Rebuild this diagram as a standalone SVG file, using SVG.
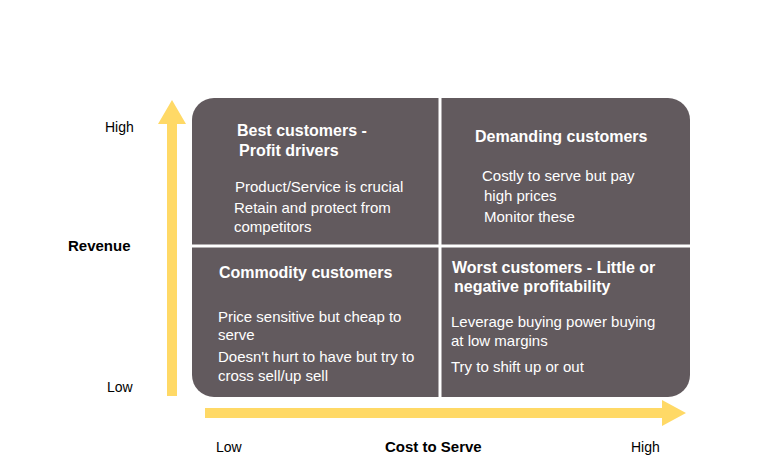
<svg xmlns="http://www.w3.org/2000/svg" width="764" height="476" viewBox="0 0 764 476">
<style>
text{font-family:"Liberation Sans",Arial,sans-serif;}
.t{fill:#fff;font-size:15px;}
.h{fill:#fff;font-size:16px;font-weight:bold;}
.ax{fill:#000;font-size:14px;}
.axb{fill:#000;font-size:15px;font-weight:bold;}
.arr{fill:#ffd966;}
</style>
<rect width="764" height="476" fill="#fff"/>
<g id="connectors">
<polygon class="arr" points="167,396 177,396 177,124 186,124 172,100 158,124 167,124"/>
<polygon class="arr" points="205,408 662,408 662,400 686,413 662,426 662,418 205,418"/>
</g>
<g id="matrix">
<rect x="192" y="98" width="498" height="299" rx="22" fill="#625a5e"/>
<line x1="440" y1="98" x2="440" y2="397" stroke="#fff" stroke-width="3"/>
<line x1="192" y1="246" x2="690" y2="246" stroke="#fff" stroke-width="3"/>
</g>
<g id="q1">
<text class="h" x="237" y="136">Best customers  -</text>
<text class="h" x="239" y="156">Profit drivers</text>
<text class="t" x="235" y="192">Product/Service is crucial</text>
<text class="t" x="234" y="213">Retain and protect from</text>
<text class="t" x="234" y="232">competitors</text>
</g>
<g id="q2">
<text class="h" x="475" y="142">Demanding customers</text>
<text class="t" x="482" y="181">Costly to serve but pay</text>
<text class="t" x="484" y="201">high prices</text>
<text class="t" x="484" y="222">Monitor these</text>
</g>
<g id="q3">
<text class="h" x="219" y="278">Commodity customers</text>
<text class="t" x="218" y="322">Price sensitive but cheap to</text>
<text class="t" x="218" y="340">serve</text>
<text class="t" x="218" y="362">Doesn't hurt to have but try to</text>
<text class="t" x="218" y="381">cross sell/up sell</text>
</g>
<g id="q4">
<text class="h" x="452" y="273">Worst customers - Little or</text>
<text class="h" x="454" y="292">negative profitability</text>
<text class="t" x="451" y="327">Leverage buying power buying</text>
<text class="t" x="451" y="346">at low margins</text>
<text class="t" x="451" y="372">Try to shift up or out</text>
</g>
<g id="axes">
<text class="ax" x="105" y="132">High</text>
<text class="ax" x="107" y="392">Low</text>
<text class="axb" x="68" y="251">Revenue</text>
<text class="ax" x="216" y="452">Low</text>
<text class="axb" x="385" y="452">Cost to Serve</text>
<text class="ax" x="631" y="452">High</text>
</g>
</svg>
